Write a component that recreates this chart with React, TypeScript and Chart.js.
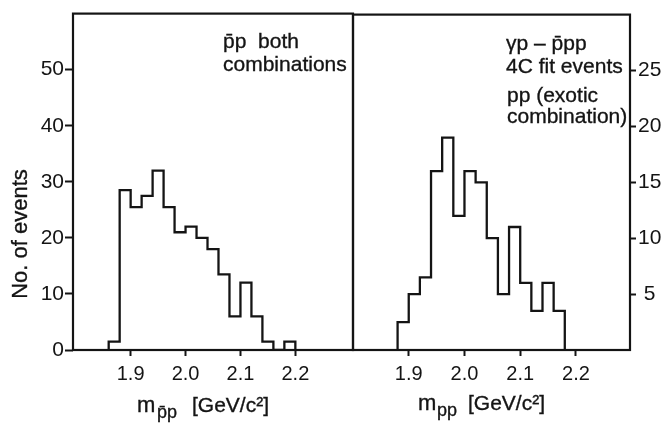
import React, { useEffect, useRef } from "react";
import { Chart, registerables } from "chart.js";

Chart.register(...registerables);

// Invariant-mass histograms, 20 MeV bins (lower edges followed by the final upper edge)
const pbarpEdges = [1.86, 1.88, 1.9, 1.92, 1.94, 1.96, 1.98, 2.0, 2.02, 2.04, 2.06, 2.08, 2.1, 2.12, 2.14, 2.16, 2.18, 2.2];
const pbarpCounts = [1.5, 28.5, 25.5, 27.5, 32, 25.5, 21, 22, 20, 18, 13.5, 6, 12, 6, 1.5, 0, 1.5];

const ppEdges = [1.88, 1.9, 1.92, 1.94, 1.96, 1.98, 2.0, 2.02, 2.04, 2.06, 2.08, 2.1, 2.12, 2.14, 2.16, 2.18];
const ppCounts = [2.5, 5, 6.5, 16, 19, 12, 16, 15, 10, 5, 11, 6, 3.5, 6, 3.5];

const massTicks = [1.9, 2.0, 2.1, 2.2];
const pbarpCountTicks = [0, 10, 20, 30, 40, 50];
const ppCountTicks = [5, 10, 15, 20, 25];

const INK = "#141414";
const FONT = "'Liberation Sans', Arial, Helvetica, sans-serif";
const W = 671;
const H = 423;

type Pt = { x: number; y: number };

// Closed step outline of a histogram: up at the first edge, down at the last.
function stepOutline(edges: number[], counts: number[]): Pt[] {
  const pts: Pt[] = [{ x: edges[0], y: 0 }];
  counts.forEach((c, i) => pts.push({ x: edges[i], y: c }));
  pts.push({ x: edges[edges.length - 1], y: 0 });
  return pts;
}

const framePlugin = {
  id: "panelFrame",
  afterDraw(chart: any) {
    const { ctx, chartArea: a } = chart;
    ctx.save();
    ctx.strokeStyle = INK;
    ctx.lineWidth = 2.2;
    ctx.strokeRect(a.left, a.top, a.right - a.left, a.bottom - a.top);
    ctx.restore();
  },
};

type Piece = { text: string; dx: number; dy: number; size: number };

function drawText(ctx: CanvasRenderingContext2D, p: Piece, x: number, y: number) {
  ctx.font = `${p.size}px ${FONT}`;
  ctx.fillText(p.text, x, y);
  ctx.lineWidth = 0.35;
  ctx.strokeText(p.text, x, y);
}

function makeLabelPlugin(id: string, lines: Piece[], title: Piece[], yTitle: boolean) {
  return {
    id,
    afterDraw(chart: any) {
      const { ctx, chartArea: a } = chart;
      ctx.save();
      ctx.fillStyle = INK;
      ctx.strokeStyle = INK;
      ctx.textBaseline = "alphabetic";
      ctx.textAlign = "left";
      for (const p of lines) drawText(ctx, p, a.left + p.dx, a.top + p.dy);
      for (const p of title) drawText(ctx, p, a.left + p.dx, a.bottom + p.dy);
      if (yTitle) {
        ctx.textAlign = "center";
        ctx.textBaseline = "middle";
        ctx.translate(21, 234);
        ctx.rotate(-Math.PI / 2);
        drawText(ctx, { text: "No. of events", dx: 0, dy: 0, size: 22 }, 0, 0);
      }
      ctx.restore();
    },
  };
}

function yAxis(position: "left" | "right", max: number, ticks: number[], width: number) {
  return {
    type: "linear",
    position,
    min: 0,
    max,
    afterBuildTicks: (s: any) => {
      s.ticks = ticks.map((v) => ({ value: v }));
    },
    afterFit: (s: any) => {
      s.width = width;
    },
    border: { display: false },
    grid: { display: true, drawOnChartArea: false, drawTicks: true, tickLength: position === "left" ? 8 : 6, tickWidth: 2, color: INK },
    ticks: {
      color: INK,
      font: { family: FONT, size: 21 },
      padding: position === "left" ? 1 : 2,
      crossAlign: position === "left" ? "near" : "center",
      callback: (v: any) => String(v),
    },
  };
}

function xAxis(min: number, max: number) {
  return {
    type: "linear",
    min,
    max,
    afterBuildTicks: (s: any) => {
      s.ticks = massTicks.map((v) => ({ value: v }));
    },
    afterFit: (s: any) => {
      s.height = H - 350;
    },
    border: { display: false },
    grid: { display: true, drawOnChartArea: false, drawTicks: true, tickLength: 6, tickWidth: 2, color: INK },
    ticks: {
      color: INK,
      font: { family: FONT, size: 20 },
      padding: 6,
      maxRotation: 0,
      autoSkip: false,
      callback: (v: any) => Number(v).toFixed(1),
    },
  };
}

function buildConfig(side: "left" | "right"): any {
  const left = side === "left";
  const data = left ? stepOutline(pbarpEdges, pbarpCounts) : stepOutline(ppEdges, ppCounts);
  const labels = left
    ? makeLabelPlugin(
        "pbarpLabels",
        [
          { text: "p\u0304p  both", dx: 150, dy: 34, size: 21 },
          { text: "combinations", dx: 150, dy: 57, size: 21 },
        ],
        [
          { text: "m", dx: 64, dy: 62, size: 22 },
          { text: "p\u0304p", dx: 84, dy: 68, size: 18 },
          { text: "[GeV/c\u00b2]", dx: 119, dy: 62, size: 21 },
        ],
        true
      )
    : makeLabelPlugin(
        "ppLabels",
        [
          { text: "\u03b3p \u2013 p\u0304pp", dx: 153, dy: 35, size: 21 },
          { text: "4C fit events", dx: 153, dy: 58, size: 21 },
          { text: "pp (exotic", dx: 154, dy: 87, size: 21 },
          { text: "combination)", dx: 154, dy: 108, size: 21 },
        ],
        [
          { text: "m", dx: 65, dy: 60, size: 22 },
          { text: "pp", dx: 84, dy: 66, size: 18 },
          { text: "[GeV/c\u00b2]", dx: 115, dy: 60, size: 21 },
        ],
        false
      );

  return {
    type: "line",
    data: {
      datasets: [
        {
          data,
          stepped: true,
          borderColor: INK,
          borderWidth: 2.3,
          borderJoinStyle: "miter",
          pointRadius: 0,
          fill: false,
        },
      ],
    },
    options: {
      responsive: false,
      animation: false,
      layout: {
        padding: left ? { left: 0, right: W - 353, top: 10, bottom: 0 } : { left: 353, right: 0, top: 10, bottom: 0 },
      },
      plugins: { legend: { display: false }, tooltip: { enabled: false }, title: { display: false } },
      scales: {
        x: left ? xAxis(1.795, 2.305) : xAxis(1.8, 2.297),
        y: left ? yAxis("left", 60, pbarpCountTicks, 73) : yAxis("right", 30, ppCountTicks, W - 630),
      },
    },
    plugins: [framePlugin, labels],
  };
}

function Panel({ side }: { side: "left" | "right" }) {
  const ref = useRef<HTMLCanvasElement | null>(null);
  useEffect(() => {
    if (!ref.current) return;
    const chart = new Chart(ref.current, buildConfig(side));
    return () => chart.destroy();
  }, [side]);
  return <canvas ref={ref} width={W} height={H} style={{ position: "absolute", left: 0, top: 0, width: W, height: H }} />;
}

export default function App() {
  return (
    <div style={{ position: "fixed", left: 0, top: 0, width: W, height: H, background: "#ffffff", overflow: "hidden" }}>
      <Panel side="left" />
      <Panel side="right" />
    </div>
  );
}
